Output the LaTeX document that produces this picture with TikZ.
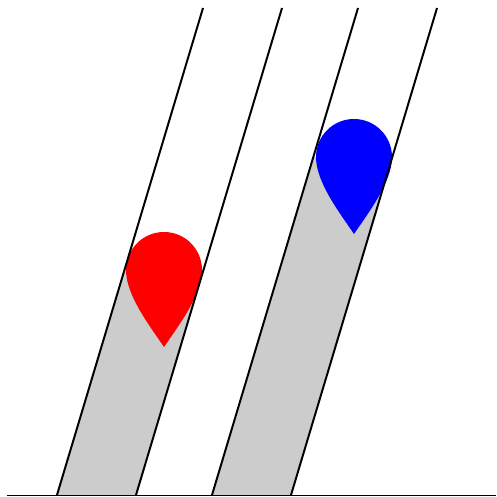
\documentclass[tikz,border=0pt]{standalone}
\usepackage{tikz}

% one drop: colour, x, y of the round part
\newcommand{\droplet}[3]{%
  \fill[#1, shift={(#2,#3)}] (0,-77) .. controls (15,-55) and (38,-25) .. (38,0)
    arc[start angle=0, end angle=180, radius=38]
    .. controls (-38,-25) and (-15,-55) .. (0,-77) -- cycle;}

\begin{document}
\begin{tikzpicture}[
            x=0.025cm, y=0.025cm,
            wall/.style={
                draw=black,
                line width=1.4pt
            },
            ground/.style={draw=black, line width=0.7pt},
            liquid/.style={fill=black!20}
        ]
        \useasboundingbox (0,0) rectangle (496,497);

        % liquid in the tubes
        \fill[liquid] (57,2) -- (136,2) -- (203.5,227) -- (124.5,227) -- cycle;
        \fill[liquid] (212,2) -- (291,2) -- (392.5,340) -- (313.5,340) -- cycle;

        % drops
        \droplet{red}{164}{227}
        \droplet{blue}{354}{340}

        % tubes
        \draw[wall] (57,2) -- (203,489);
        \draw[wall] (136,2) -- (282,489);
        \draw[wall] (212,2) -- (358,489);
        \draw[wall] (291,2) -- (437,489);

        \draw[ground] (7,2) -- (496,2);
        \end{tikzpicture}
\end{document}
